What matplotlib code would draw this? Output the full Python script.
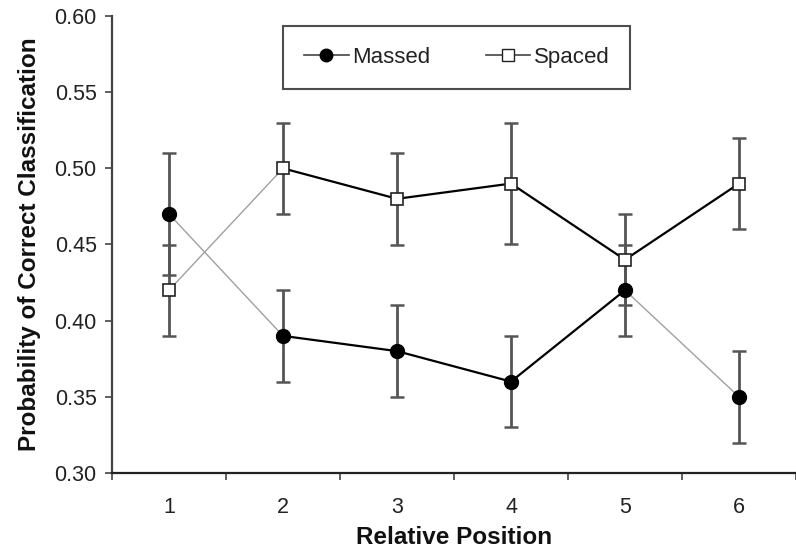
import matplotlib
matplotlib.use("Agg")
import matplotlib.pyplot as plt
from matplotlib.lines import Line2D

plt.rcParams['font.family'] = ['Liberation Sans', 'DejaVu Sans']

positions = [1, 2, 3, 4, 5, 6]
massed = [0.47, 0.39, 0.38, 0.36, 0.42, 0.35]
massed_err = [0.04, 0.03, 0.03, 0.03, 0.03, 0.03]
spaced = [0.42, 0.50, 0.48, 0.49, 0.44, 0.49]
spaced_err = [0.03, 0.03, 0.03, 0.04, 0.03, 0.03]
# segment style: True = thick black, False = thin gray
massed_thick = [False, True, True, True, False]
spaced_thick = [False, True, True, True, True]

fig = plt.figure(figsize=(7.96, 5.5), dpi=100)
ax = fig.add_axes([112/796, 77/550, (796-112)/796, (473-16)/550])

def draw(vals, thick):
    for i in range(len(vals) - 1):
        if thick[i]:
            ax.plot(positions[i:i+2], vals[i:i+2], color='black', lw=1.6, zorder=2)
        else:
            ax.plot(positions[i:i+2], vals[i:i+2], color='#a0a0a0', lw=1.0, zorder=2)

draw(massed, massed_thick)
draw(spaced, spaced_thick)

ax.errorbar(positions, massed, yerr=massed_err, fmt='none', ecolor='#555555',
            elinewidth=2.0, capsize=5, capthick=1.8, zorder=3)
ax.errorbar(positions, spaced, yerr=spaced_err, fmt='none', ecolor='#555555',
            elinewidth=2.0, capsize=5, capthick=1.8, zorder=3)

ax.plot(positions, massed, 'o', color='black', ms=10, ls='none', zorder=4)
ax.plot(positions, spaced, 's', mfc='white', mec='#222222', mew=1.2, ms=9, ls='none', zorder=4)

ax.set_xlim(0.5, 6.5)
ax.set_ylim(0.30, 0.60)
yt = [0.30, 0.35, 0.40, 0.45, 0.50, 0.55, 0.60]
ax.set_yticks(yt)
ax.set_yticklabels(['%.2f' % v for v in yt])
ax.set_xticks([0.5, 1.5, 2.5, 3.5, 4.5, 5.5, 6.5])
ax.set_xticklabels([])
ax.set_xticks(positions, minor=True)
ax.set_xticklabels([str(p) for p in positions], minor=True)
ax.tick_params(axis='x', which='minor', length=0, pad=17, labelsize=15.5, labelcolor='#222222')
ax.tick_params(axis='x', which='major', length=5, width=1.2, color='#444444', direction='out')
ax.tick_params(axis='y', length=5, width=1.2, color='#444444', direction='out',
               labelsize=15.5, pad=6, labelcolor='#222222')

for s in ['top', 'right']:
    ax.spines[s].set_visible(False)
for s in ['left', 'bottom']:
    ax.spines[s].set_color('#444444')
    ax.spines[s].set_linewidth(1.6)
ax.spines['bottom'].set_color('#222222')

ax.set_xlabel('Relative Position', fontsize=17.5, fontweight='bold', labelpad=6, color='#111111')
ax.set_ylabel('Probability of Correct Classification', fontsize=17.5, fontweight='bold',
              labelpad=10, color='#111111')

handles = [Line2D([], [], color='#444444', lw=1.2, marker='o', ms=9, mfc='black', mec='black'),
           Line2D([], [], color='#444444', lw=1.2, marker='s', ms=8, mfc='white', mec='#222222')]
leg = ax.legend(handles, ['Massed', 'Spaced'], loc='center', bbox_to_anchor=(0.504, 0.909),
                ncol=2, fontsize=16, frameon=True, fancybox=False, handlelength=2.0,
                handletextpad=0.15, columnspacing=2.5, borderpad=0.95, borderaxespad=0,
                edgecolor='#222222')
leg.get_frame().set_linewidth(1.5)
for t in leg.get_texts():
    t.set_color('#222222')

fig.savefig('out.png', dpi=100)
